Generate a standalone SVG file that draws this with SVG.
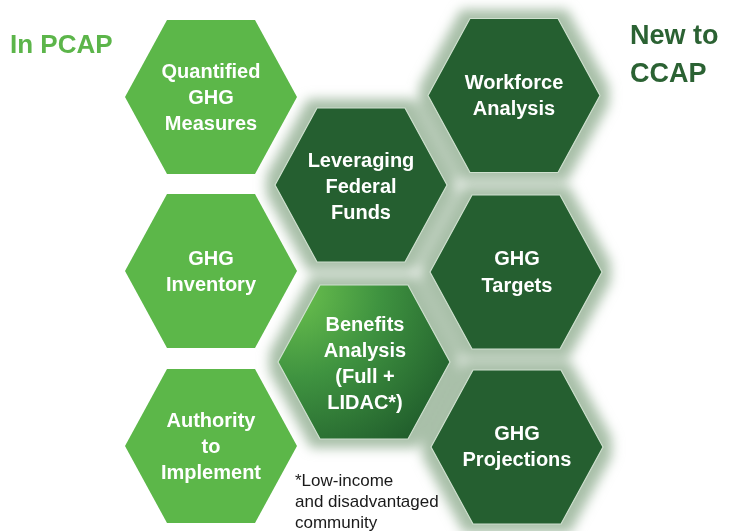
<svg xmlns="http://www.w3.org/2000/svg" width="742" height="531" viewBox="0 0 742 531">
<defs>
<style>
.light{fill:#5cb749}
.dark{fill:#255f30;stroke:#cfe0cf;stroke-width:1.2}
.ht{font-family:"Liberation Sans",Arial,sans-serif;font-weight:bold;font-size:20px;fill:#ffffff;text-anchor:middle}
.title{font-family:"Liberation Sans",Arial,sans-serif;font-weight:bold}
.note{font-family:"Liberation Sans",Arial,sans-serif;font-size:17px;fill:#1a1a1a}
.glowshape{fill:#a8bfa8}
</style>
<filter id="blur" x="-30%" y="-30%" width="160%" height="160%">
<feMorphology operator="dilate" radius="9"/>
<feGaussianBlur stdDeviation="6"/>
</filter>
<radialGradient id="ben" cx="-70" cy="-70" r="190" gradientUnits="userSpaceOnUse">
<stop offset="0" stop-color="#6cc24e"/>
<stop offset="0.45" stop-color="#3f9340"/>
<stop offset="1" stop-color="#1f5b2b"/>
</radialGradient>
<polygon id="hex" points="-86,0 -44,-77 44,-77 86,0 44,77 -44,77"/>
</defs>
<rect width="742" height="531" fill="#ffffff"/>

<g id="glow" filter="url(#blur)">
<use href="#hex" class="glowshape" transform="translate(514,95.5)"/>
<use href="#hex" class="glowshape" transform="translate(516,272)"/>
<use href="#hex" class="glowshape" transform="translate(517,447)"/>
<use href="#hex" class="glowshape" transform="translate(361,185)"/>
<use href="#hex" class="glowshape" transform="translate(364,362)"/>
</g>

<g id="labels">
<text class="title" x="10" y="53" font-size="26" fill="#5cb54a">In PCAP</text>
<text class="title" x="630" y="44" font-size="27" fill="#2b6233">New to</text>
<text class="title" x="630" y="82" font-size="27" fill="#2b6233">CCAP</text>
</g>

<g id="quantified">
<use href="#hex" class="light" transform="translate(211,97)"/>
<text class="ht" x="211" y="78">Quantified</text>
<text class="ht" x="211" y="104">GHG</text>
<text class="ht" x="211" y="130">Measures</text>
</g>

<g id="inventory">
<use href="#hex" class="light" transform="translate(211,271)"/>
<text class="ht" x="211" y="265">GHG</text>
<text class="ht" x="211" y="291">Inventory</text>
</g>

<g id="authority">
<use href="#hex" class="light" transform="translate(211,446)"/>
<text class="ht" x="211" y="427">Authority</text>
<text class="ht" x="211" y="453">to</text>
<text class="ht" x="211" y="479">Implement</text>
</g>

<g id="leveraging">
<use href="#hex" class="dark" transform="translate(361,185)"/>
<text class="ht" x="361" y="167">Leveraging</text>
<text class="ht" x="361" y="193">Federal</text>
<text class="ht" x="361" y="219">Funds</text>
</g>

<g id="benefits">
<use href="#hex" fill="url(#ben)" stroke="#cfe0cf" stroke-width="1.2" transform="translate(364,362)"/>
<text class="ht" x="365" y="331">Benefits</text>
<text class="ht" x="365" y="357">Analysis</text>
<text class="ht" x="365" y="383">(Full +</text>
<text class="ht" x="365" y="409">LIDAC*)</text>
</g>

<g id="workforce">
<use href="#hex" class="dark" transform="translate(514,95.5)"/>
<text class="ht" x="514" y="89">Workforce</text>
<text class="ht" x="514" y="115">Analysis</text>
</g>

<g id="targets">
<use href="#hex" class="dark" transform="translate(516,272)"/>
<text class="ht" x="517" y="265">GHG</text>
<text class="ht" x="517" y="292">Targets</text>
</g>

<g id="projections">
<use href="#hex" class="dark" transform="translate(517,447)"/>
<text class="ht" x="517" y="440">GHG</text>
<text class="ht" x="517" y="466">Projections</text>
</g>

<g id="footnote">
<text class="note" x="295" y="486">*Low-income</text>
<text class="note" x="295" y="507">and disadvantaged</text>
<text class="note" x="295" y="528">community</text>
</g>

<g id="connectors"/>
</svg>
